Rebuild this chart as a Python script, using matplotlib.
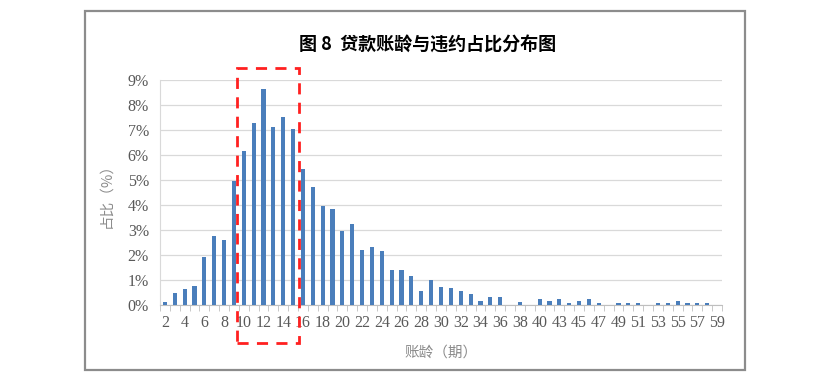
import matplotlib
matplotlib.use("Agg")
import matplotlib.pyplot as plt
from matplotlib.patches import Rectangle
import matplotlib.transforms as mtransforms
import numpy as np

categories = list(range(2, 42)) + list(range(43, 60))
values = [0.14, 0.49, 0.65, 0.77, 1.92, 2.77, 2.59, 4.96, 6.15, 7.30,
          8.65, 7.14, 7.54, 7.03, 5.43, 4.73, 3.95, 3.84, 2.97, 3.24,
          2.19, 2.34, 2.16, 1.39, 1.39, 1.18, 0.58, 1.00, 0.72, 0.68,
          0.58, 0.43, 0.18, 0.31, 0.31, 0.00, 0.14, 0.00, 0.24, 0.15,
          0.24, 0.08, 0.18, 0.24, 0.10, 0.00, 0.08, 0.10, 0.10, 0.00,
          0.08, 0.10, 0.15, 0.08, 0.08, 0.10, 0.00]
yticks = [0, 1, 2, 3, 4, 5, 6, 7, 8, 9]
title = "图 8  贷款账龄与违约占比分布图"
xlabel = "账龄（期）"
ylabel = "占比（%）"
highlight = (9, 15)  # highlighted 账龄 range

cjk = ["Noto Sans CJK SC", "DejaVu Sans"]
serif = ["Liberation Serif", "DejaVu Serif"]

fig = plt.figure(figsize=(8.17, 3.81), dpi=100)
fig.patch.set_facecolor("white")

# outer frame
fig.patches.append(Rectangle((85 / 817, 11 / 381), 660 / 817, 359 / 381,
                             transform=fig.transFigure, fill=False,
                             edgecolor="#8c8c8c", linewidth=1.6))

ax = fig.add_axes([160 / 817, 76 / 381, 562 / 817, 225 / 381])
x = np.arange(len(categories))
ax.bar(x, values, width=0.42, color="#4A7EBB", zorder=3)

ax.set_xlim(-0.5, len(categories) - 0.5)
ax.set_ylim(0, 9)
ax.set_yticks(yticks)
ax.set_yticklabels([f"{v}%" for v in yticks], family=serif, fontsize=11.5, color="#595959")
ax.yaxis.grid(True, color="#D9D9D9", linewidth=0.9, zorder=0)
ax.tick_params(axis="y", length=0, pad=8)

ax.set_xticks(x[::2])
ax.set_xticklabels([str(c) for c in categories[::2]], family=serif, fontsize=11.5, color="#595959")
ax.set_xticks(np.arange(-0.5, len(categories), 1), minor=True)
ax.tick_params(axis="x", which="major", length=0, pad=7)
ax.tick_params(axis="x", which="minor", length=4, color="#BFBFBF", direction="out")

for s in ["top", "right"]:
    ax.spines[s].set_visible(False)
ax.spines["bottom"].set_color("#BFBFBF")
ax.spines["left"].set_color("#D9D9D9")

ax.set_xlabel(xlabel, family=cjk, fontsize=10.5, color="#8c8c8c", labelpad=11)
ax.set_ylabel(ylabel, family=cjk, fontsize=10.5, color="#8c8c8c", labelpad=10)

fig.text(428 / 817, 1 - 45 / 381, title, family=cjk, fontsize=13, fontweight="bold",
         ha="center", va="center", color="black")

# red dashed highlight box (x in data coords, y in axes fraction)
trans = mtransforms.blended_transform_factory(ax.transData, ax.transAxes)
x0 = categories.index(highlight[0]) + 0.35
x1 = categories.index(highlight[1]) + 0.6
ax.add_patch(Rectangle((x0, -0.17), x1 - x0, 1.225, transform=trans, fill=False,
                       edgecolor="#FF2020", linewidth=2, linestyle=(0, (4, 3)),
                       clip_on=False, zorder=5))

fig.savefig("out.png", dpi=100)
